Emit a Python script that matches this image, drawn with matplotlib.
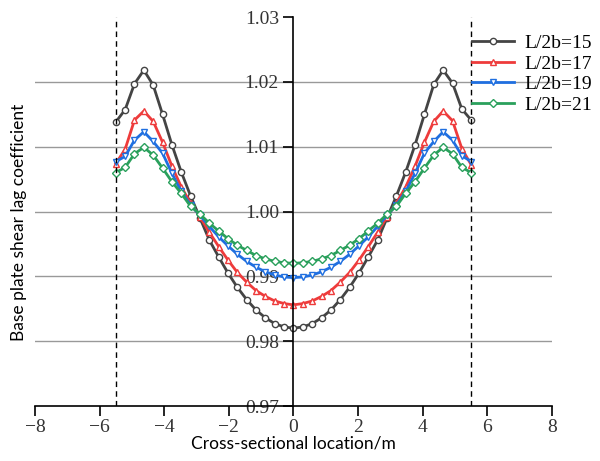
import matplotlib
matplotlib.use('Agg')
import matplotlib.pyplot as plt
import numpy as np

# node positions across the section (39 nodes, -5.5 .. 5.5 m)
x_pos = np.linspace(-5.5, 5.5, 39)

labels = ['L/2b=15', 'L/2b=17', 'L/2b=19', 'L/2b=21']

lam_15 = [1.0138, 1.0157, 1.0197, 1.0218, 1.0195, 1.0150, 1.0103, 1.0061, 1.0024, 0.9990,
          0.9956, 0.9930, 0.9905, 0.9883, 0.9864, 0.9848, 0.9836, 0.9827, 0.9822, 0.9820,
          0.9822, 0.9827, 0.9836, 0.9848, 0.9864, 0.9883, 0.9905, 0.9930, 0.9956, 0.9990,
          1.0024, 1.0061, 1.0103, 1.0150, 1.0196, 1.0218, 1.0198, 1.0158, 1.0141]
lam_17 = [1.0074, 1.0096, 1.0141, 1.0155, 1.0139, 1.0107, 1.0070, 1.0038, 1.0013, 0.9992,
          0.9968, 0.9946, 0.9925, 0.9906, 0.9891, 0.9878, 0.9869, 0.9862, 0.9858, 0.9856,
          0.9858, 0.9862, 0.9869, 0.9878, 0.9891, 0.9906, 0.9925, 0.9946, 0.9968, 0.9992,
          1.0013, 1.0038, 1.0070, 1.0107, 1.0139, 1.0155, 1.0140, 1.0097, 1.0072]
lam_19 = [1.0077, 1.0085, 1.0110, 1.0123, 1.0108, 1.0090, 1.0059, 1.0031, 1.0010, 0.9994,
          0.9977, 0.9961, 0.9947, 0.9934, 0.9923, 0.9914, 0.9907, 0.9902, 0.9899, 0.9898,
          0.9899, 0.9902, 0.9907, 0.9914, 0.9923, 0.9934, 0.9947, 0.9961, 0.9977, 0.9994,
          1.0010, 1.0031, 1.0059, 1.0090, 1.0108, 1.0123, 1.0110, 1.0086, 1.0077]
lam_21 = [1.0060, 1.0068, 1.0089, 1.0099, 1.0087, 1.0067, 1.0046, 1.0028, 1.0008, 0.9996,
          0.9982, 0.9970, 0.9958, 0.9948, 0.9940, 0.9932, 0.9927, 0.9923, 0.9921, 0.9920,
          0.9921, 0.9923, 0.9927, 0.9932, 0.9940, 0.9948, 0.9958, 0.9970, 0.9982, 0.9996,
          1.0008, 1.0028, 1.0046, 1.0067, 1.0087, 1.0099, 1.0089, 1.0068, 1.0060]

x_ticks = [-8, -6, -4, -2, 0, 2, 4, 6, 8]
y_ticks = [0.97, 0.98, 0.99, 1.00, 1.01, 1.02, 1.03]

colors = ['#444444', '#ee3b3b', '#1f6fe0', '#2aa05c']
markers = ['o', '^', 'v', 'D']
sizes = [4.5, 5, 5, 4]

fig = plt.figure(figsize=(6, 4.61), dpi=100)
ax = fig.add_axes([0.0583, 0.1193, 0.8617, 0.8438])

for y, lab, c, m, s in zip([lam_15, lam_17, lam_19, lam_21], labels, colors, markers, sizes):
    ax.plot(x_pos, y, color=c, lw=2, marker=m, ms=s, mfc='white', mec=c, mew=1, label=lab)

# edges of the base plate
ax.axvline(-5.5, color='k', lw=1, ls=(0, (4, 3)))
ax.axvline(5.5, color='k', lw=1, ls=(0, (4, 3)))

ax.set_xlim(-8, 8)
ax.set_ylim(0.97, 1.03)
ax.set_xticks(x_ticks)
ax.set_yticks(y_ticks)
ax.set_xticklabels(['\u22128', '\u22126', '\u22124', '\u22122', '0', '2', '4', '6', '8'])
ax.set_yticklabels(['%.2f' % v for v in y_ticks])

ax.spines['right'].set_visible(False)
ax.spines['top'].set_visible(False)
ax.spines['left'].set_position(('data', 0))
ax.spines['left'].set_linewidth(1.2)
ax.spines['bottom'].set_linewidth(1.2)
ax.set_axisbelow(True)
ax.yaxis.grid(True, color='#999999', lw=1)
ax.get_ygridlines()[-1].set_visible(False)
ax.get_ygridlines()[0].set_visible(False)

ax.tick_params(direction='out', length=7, width=1.2, labelsize=14)
ax.tick_params(axis='x', pad=2)
for t in ax.get_xticklabels() + ax.get_yticklabels():
    t.set_family('Liberation Serif')
    t.set_color('#333333')

ax.set_xlabel('Cross-sectional location/m', family='Lato', fontsize=12.5, labelpad=0)
ax.set_ylabel('Base plate shear lag coefficient', family='Lato', fontsize=12.5)
ax.yaxis.set_label_coords(0.045, 0.518, transform=fig.transFigure)

leg = ax.legend(loc='upper left', bbox_to_anchor=(0.822, 0.985), frameon=False,
                prop={'family': 'Liberation Serif', 'size': 14}, handlelength=2.2,
                handletextpad=0.5, labelspacing=0.15, borderaxespad=0.2)

fig.savefig('out.png', dpi=100)
